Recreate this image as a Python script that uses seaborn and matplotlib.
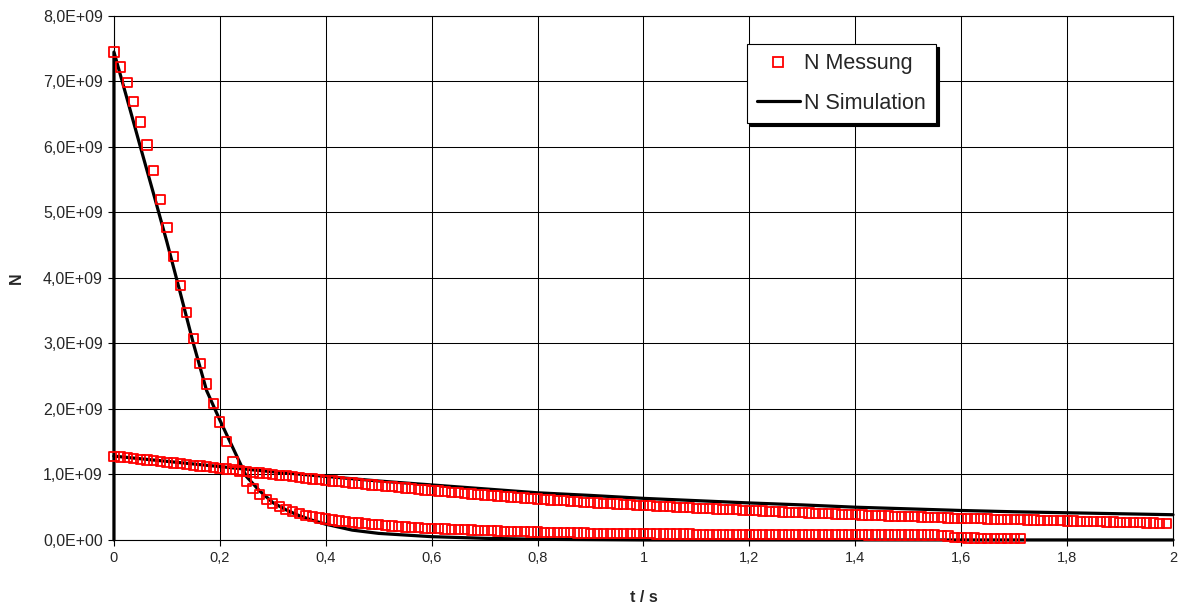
import numpy as np
import pandas as pd
import matplotlib
matplotlib.use('Agg')
import matplotlib.pyplot as plt
import seaborn as sns
from matplotlib.lines import Line2D
from matplotlib.ticker import FuncFormatter, MultipleLocator

sns.set_style('white')
plt.rcParams['font.family'] = ['Liberation Sans', 'DejaVu Sans']

# Messwerte in 1E9, Abtastung alle 0,0125 s
dt = 0.0125
n_mess_schnell = [
    7.45, 7.22, 6.98, 6.70, 6.38, 6.03, 5.64, 5.20, 4.77, 4.33,
    3.89, 3.47, 3.07, 2.70, 2.38, 2.08, 1.80, 1.50, 1.19, 1.04,
    0.90, 0.79, 0.69, 0.62, 0.56, 0.51, 0.47, 0.43, 0.40, 0.375,
    0.355, 0.335, 0.32, 0.305, 0.29, 0.28, 0.27, 0.26, 0.25, 0.24,
    0.232, 0.222, 0.213, 0.205, 0.198, 0.192, 0.186, 0.180,
    0.175, 0.171, 0.167, 0.163, 0.159, 0.155, 0.151, 0.147,
    0.143, 0.140, 0.137, 0.134, 0.131, 0.128, 0.125, 0.122,
    0.120, 0.117, 0.115, 0.113, 0.111, 0.109, 0.107, 0.105,
    0.103, 0.101, 0.099, 0.098, 0.097, 0.096, 0.095, 0.094,
    0.093, 0.093, 0.092, 0.092, 0.091, 0.091, 0.090, 0.090,
    0.089, 0.089, 0.088, 0.088, 0.087, 0.087, 0.087, 0.086,
    0.086, 0.085, 0.085, 0.084, 0.084, 0.083, 0.083, 0.082,
    0.082, 0.082, 0.081, 0.081, 0.080, 0.080, 0.079, 0.079,
    0.078, 0.078, 0.077, 0.077, 0.076, 0.076, 0.076, 0.075,
    0.075, 0.075, 0.074, 0.074, 0.074, 0.073, 0.060, 0.035,
    0.032, 0.030, 0.029, 0.028, 0.027, 0.026, 0.025, 0.024,
    0.023, 0.022,
]
n_mess_langsam = [
    1.280, 1.268, 1.256, 1.244, 1.232, 1.220, 1.208, 1.196,
    1.185, 1.174, 1.163, 1.152, 1.141, 1.130, 1.119, 1.107,
    1.095, 1.083, 1.071, 1.059, 1.047, 1.035, 1.023, 1.011,
    1.000, 0.989, 0.978, 0.966, 0.955, 0.944, 0.932, 0.921,
    0.910, 0.900, 0.890, 0.880, 0.870, 0.860, 0.850, 0.840,
    0.830, 0.821, 0.811, 0.802, 0.792, 0.783, 0.774, 0.764,
    0.755, 0.746, 0.737, 0.729, 0.720, 0.711, 0.703, 0.694,
    0.685, 0.678, 0.670, 0.663, 0.655, 0.648, 0.640, 0.633,
    0.625, 0.618, 0.611, 0.604, 0.597, 0.591, 0.584, 0.577,
    0.570, 0.564, 0.559, 0.553, 0.548, 0.542, 0.536, 0.531,
    0.525, 0.520, 0.515, 0.510, 0.505, 0.500, 0.495, 0.490,
    0.485, 0.481, 0.476, 0.472, 0.468, 0.463, 0.459, 0.454,
    0.450, 0.446, 0.441, 0.437, 0.432, 0.428, 0.424, 0.419,
    0.415, 0.411, 0.407, 0.404, 0.400, 0.396, 0.392, 0.389,
    0.385, 0.381, 0.377, 0.374, 0.370, 0.366, 0.362, 0.359,
    0.355, 0.352, 0.349, 0.346, 0.342, 0.339, 0.336, 0.333,
    0.330, 0.328, 0.325, 0.323, 0.320, 0.318, 0.315, 0.313,
    0.310, 0.308, 0.305, 0.303, 0.300, 0.298, 0.295, 0.293,
    0.290, 0.288, 0.285, 0.283, 0.280, 0.278, 0.275, 0.273,
    0.270, 0.268, 0.265, 0.263, 0.260, 0.258, 0.255, 0.253,
]

# Simulation (1E9)
t_sim_schnell = [0, 0, 0.025, 0.05, 0.075, 0.1, 0.125, 0.15, 0.175, 0.2,
                 0.225, 0.25, 0.275, 0.3, 0.325, 0.35, 0.375, 0.4, 0.45,
                 0.5, 0.6, 0.7, 0.8, 1.0, 1.5, 2.0]
n_sim_schnell = [0, 7.45, 6.73, 6.00, 5.28, 4.55, 3.78, 3.00, 2.28, 1.83,
                 1.40, 0.97, 0.75, 0.57, 0.46, 0.37, 0.30, 0.24, 0.15,
                 0.10, 0.05, 0.025, 0.01, 0.0, 0.0, 0.0]
t_sim_langsam = [0, 0.1, 0.2, 0.3, 0.4, 0.5, 0.6, 0.7, 0.8, 0.9, 1.0,
                 1.1, 1.2, 1.3, 1.4, 1.5, 1.6, 1.7, 1.8, 1.9, 2.0]
n_sim_langsam = [1.28, 1.20, 1.12, 1.04, 0.97, 0.90, 0.84, 0.78, 0.72, 0.68,
                 0.635, 0.60, 0.565, 0.535, 0.50, 0.475, 0.45, 0.43, 0.415,
                 0.40, 0.385]

mess = pd.concat([
    pd.DataFrame({'t': np.arange(len(n_mess_schnell)) * dt,
                  'N': np.array(n_mess_schnell) * 1e9}),
    pd.DataFrame({'t': np.arange(len(n_mess_langsam)) * dt,
                  'N': np.array(n_mess_langsam) * 1e9}),
])

fig, ax = plt.subplots(figsize=(11.82, 6.06), dpi=100)
fig.subplots_adjust(left=0.0964, right=0.9924, bottom=0.109, top=0.9736)

for t, n in [(t_sim_schnell, n_sim_schnell), (t_sim_langsam, n_sim_langsam)]:
    sns.lineplot(x=t, y=np.array(n) * 1e9, ax=ax, color='black', lw=2.3,
                 estimator=None, sort=False, zorder=3, clip_on=False)

sns.scatterplot(data=mess, x='t', y='N', marker='s', s=44, color='red',
                facecolor='none', edgecolor='red', linewidth=1.3,
                ax=ax, zorder=4, clip_on=False)

ax.set_xlim(0, 2)
ax.set_ylim(0, 8e9)
ax.xaxis.set_major_locator(MultipleLocator(0.2))
ax.yaxis.set_major_locator(MultipleLocator(1e9))
ax.xaxis.set_major_formatter(FuncFormatter(lambda v, p: f'{v:g}'.replace('.', ',')))
ax.yaxis.set_major_formatter(FuncFormatter(lambda v, p: f'{v:.1E}'.replace('.', ',')))

ax.grid(True, color='black', lw=0.75)
for s in ax.spines.values():
    s.set_color('black')
    s.set_linewidth(0.8)
ax.tick_params(direction='out', length=4, width=0.8, color='black',
               left=True, bottom=True, labelsize=10.5, pad=4)
ax.tick_params(axis='y', labelsize=11.5)

ax.set_xlabel('t / s', fontsize=11.5, fontweight='bold')
ax.set_ylabel('N', fontsize=11.5, fontweight='bold')
ax.xaxis.set_label_coords(0.5, -0.095)
ax.yaxis.set_label_coords(-0.085, 0.5)

h1 = Line2D([], [], ls='none', marker='s', markersize=6.5, mfc='none',
            mec='red', mew=1.3)
h2 = Line2D([], [], color='black', lw=2.3)
leg = ax.legend([h1, h2], ['N Messung', 'N Simulation'], loc='upper left',
                bbox_to_anchor=(0.598, 0.947), fontsize=15.5, frameon=True,
                fancybox=False, edgecolor='black', framealpha=1,
                shadow={'color': 'black', 'alpha': 1}, handlelength=2.0,
                handletextpad=0.2, labelspacing=0.85, borderpad=0.45,
                borderaxespad=0)
leg.get_frame().set_linewidth(0.8)

fig.savefig('out.png', dpi=100)
